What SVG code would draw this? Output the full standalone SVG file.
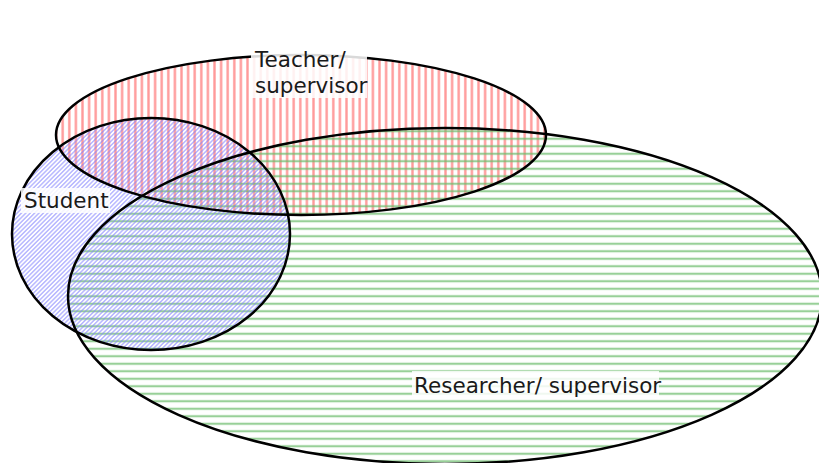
<svg xmlns="http://www.w3.org/2000/svg" width="819" height="463" viewBox="0 0 819 463">
  <style>
    .outline { fill: none; stroke: #000; stroke-width: 2.5; }
    .label { font-family: "DejaVu Sans", Verdana, sans-serif; font-size: 21.5px; fill: #1a1a1a; }
    .labelbox { fill: #fff; fill-opacity: 0.85; }
  </style>
  <defs>
    <!-- vertical red hatching -->
    <pattern id="hatchRed" patternUnits="userSpaceOnUse" width="6.6" height="10">
      <line x1="3.3" y1="0" x2="3.3" y2="10" stroke="#ff6f6f" stroke-opacity="0.7" stroke-width="2.4"/>
    </pattern>
    <!-- horizontal green hatching -->
    <pattern id="hatchGreen" patternUnits="userSpaceOnUse" width="10" height="7.5">
      <line x1="0" y1="3.75" x2="10" y2="3.75" stroke="#6cbc6c" stroke-opacity="0.7" stroke-width="2.2"/>
    </pattern>
    <!-- diagonal blue hatching -->
    <pattern id="hatchBlue" patternUnits="userSpaceOnUse" width="3.1" height="6" patternTransform="rotate(45)">
      <line x1="1.55" y1="0" x2="1.55" y2="6" stroke="#8080ff" stroke-opacity="0.6" stroke-width="1.4"/>
    </pattern>
  </defs>

  <!-- set fills -->
  <g id="fills">
    <ellipse cx="301" cy="135" rx="245" ry="80" fill="url(#hatchRed)"/>
    <ellipse cx="445" cy="296" rx="377" ry="168" fill="url(#hatchGreen)"/>
    <ellipse cx="151" cy="234" rx="139" ry="116" fill="url(#hatchBlue)"/>
  </g>

  <g id="teacher">
    <ellipse class="outline" cx="301" cy="135" rx="245" ry="80"/>
    <rect class="labelbox" x="251" y="45" width="116" height="53"/>
    <text class="label" x="255" y="67">Teacher/</text>
    <text class="label" x="255" y="93">supervisor</text>
  </g>

  <g id="researcher">
    <ellipse class="outline" cx="445" cy="296" rx="377" ry="168"/>
    <rect class="labelbox" x="412" y="371" width="247" height="28"/>
    <text class="label" x="414" y="393">Researcher/ supervisor</text>
  </g>

  <g id="student">
    <ellipse class="outline" cx="151" cy="234" rx="139" ry="116"/>
    <rect class="labelbox" x="21" y="188" width="89" height="25"/>
    <text class="label" x="24" y="208">Student</text>
  </g>
</svg>
